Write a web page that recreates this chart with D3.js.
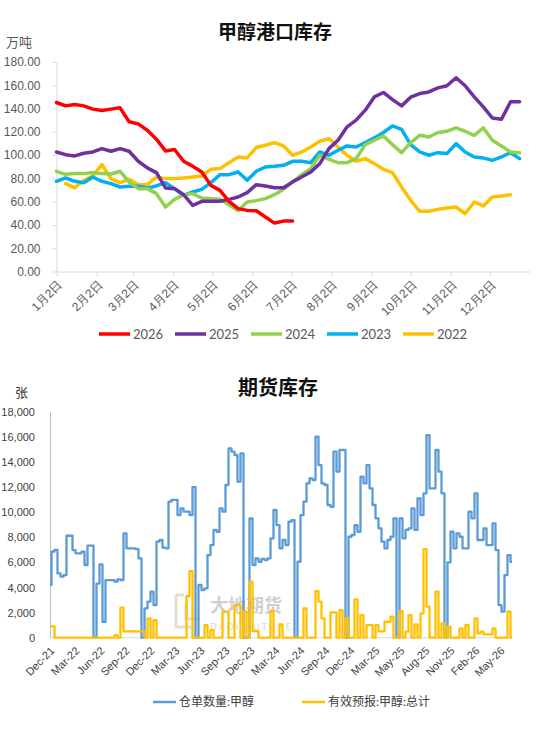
<!DOCTYPE html>
<html>
<head>
<meta charset="utf-8">
<script src="https://cdn.jsdelivr.net/npm/d3@7"></script>
<style>
  body { margin: 0; background: #fff; }
  svg { display: block; font-family: Lato, "Noto Sans CJK SC", sans-serif; }
</style>
</head>
<body>
<script>
// ---------- 甲醇港口库存 (万吨), weekly points from 1月2日 ----------
const portYears = ['2026', '2025', '2024', '2023', '2022'];
const port2026 = [145.2,142.3,143.5,142.3,139.5,138.3,139.5,140.6,128.6,126.8,121.4,113.7,103.6,104.8,94.7,90.4,85.5,74,69.7,60.3,54,52.5,52.2,46.8,41.6,43.3,43.3];
const port2025 = [102.7,100.4,99.3,101.6,102.7,105.6,103.3,105.6,103.3,94.7,89,85,71.8,71.2,66,56.8,60.3,60.3,60.3,62,64,67.8,74.6,73.5,72,72,77,81.2,85.5,92.7,105.6,112.8,124.3,130,138.6,150,153.8,147.7,142.3,149.8,152.9,154.3,157.8,159.6,166.5,159.6,150,141.5,131.9,130.8,145.8,145.8];
const port2024 = [86.1,83.5,84.1,84.1,85,84.1,83.8,86.1,76.9,71.2,71.2,66.9,55.4,62,66,66.9,63.1,62.6,62,57.4,52.2,59.7,60.9,62.6,66,70.6,76.9,83.2,88.4,99.9,96.4,93.5,93.5,97,109,112.8,116.5,109,102.1,110.7,117,115.6,119.4,120.5,123.4,120.5,117,123.4,112.8,107.9,102.7,102];
const port2023 = [77.5,80.4,77.5,76.3,81.2,77.5,75.5,72.6,73.2,73.2,71.8,73.5,76.3,71.2,65.4,68.3,70.6,76.3,83.2,83.2,85.5,78.4,86.1,89.8,90.4,91.2,94.7,94.7,93.5,102.7,99.9,104.2,107.9,107,110.7,114.8,119.4,125.1,122.2,109,102.7,99.9,102.1,101.3,109.9,102.7,98.4,97.6,95.5,98.4,102.1,97];
const port2022 = [75.5,71.8,78.4,82.1,91.9,79.8,76.3,79.2,74.6,74.6,81.2,79.8,79.8,80.4,81.2,82.1,87.8,88.4,93.5,98.4,97.6,106.5,108.5,110.7,107.9,99.9,102.7,107,111.9,114.2,107,99.9,94.7,97,92.7,87.8,85,72.6,61.1,51.7,51.7,53.4,54.5,55.4,49.6,59.7,56.3,64,64.8,66];
const portFirstWeek = [0, 0, 0, 0, 1];   // week index of each series' first value
const portTicks = d3.range(0, 181, 20);
const portMonths = d3.range(0, 12);      // tick on the 2nd of each month

// ---------- 期货库存 (张) ----------
const futTickLabels = ['Dec-21','Mar-22','Jun-22','Sep-22','Dec-22','Mar-23','Jun-23','Sep-23','Dec-23','Mar-24','Jun-24','Sep-24','Dec-24','Mar-25','May-25','Aug-25','Nov-25','Feb-26','May-26'];
const futYTicks = d3.range(0, 18001, 2000);
const warrant = [4200,6850,7000,5120,4860,4990,8120,8120,6980,6720,6720,6850,5790,7330,7330,0,4300,5840,1270,4590,
  4590,4590,4460,4650,4590,8310,7120,7120,7120,7050,6320,0,2340,2870,3660,2600,7650,7780,7170,7120,
  10830,10970,10970,9770,10300,10040,10040,9770,12000,0,4200,3800,3930,6580,7380,8580,8440,10300,10040,12160,
  15080,14820,14550,12430,14680,0,0,9500,5790,6320,6050,6270,6190,6320,7910,10170,8970,7120,7780,7380,
  9240,9370,0,6050,9770,10830,12290,12690,12560,16010,13750,12290,12160,10570,10430,14820,13220,14950,14950,0,
  8040,8180,8970,8440,12820,12290,13750,11890,10570,9500,8710,7650,7120,7780,8040,9500,0,9500,7910,8580,
  8710,10300,8580,11100,9770,11500,16140,11890,11890,14950,13220,11500,0,6000,8440,7120,8310,8040,7120,7120,
  10040,9500,11500,7780,7780,8710,7380,7380,9110,6980,2600,2070,4990,6580,6050];
const forecast = [900,900,0,0,0,0,0,0,0,0,0,0,0,0,0,0,0,0,0,0,
  0,0,200,0,2400,500,500,500,500,500,500,500,0,1540,0,1400,0,0,0,0,
  0,0,0,0,0,0,3300,5300,0,0,0,0,1000,0,600,0,0,0,2070,2070,
  0,0,2600,2600,0,2070,0,4460,530,530,0,0,0,0,2120,0,0,1060,0,0,
  0,0,0,0,0,2340,0,0,0,3700,2870,1540,0,0,2020,2020,0,2200,0,1540,
  0,0,3050,0,1800,0,1000,1000,0,1000,500,500,1270,1270,1670,0,0,2120,0,480,
  1800,0,1060,0,1940,7060,2470,0,0,3660,0,1140,0,880,0,0,0,740,0,1010,
  0,0,1540,350,480,270,270,270,740,0,0,0,0,2070,0];

const portColors = ['#FF0000', '#7030A0', '#92D050', '#00B0F0', '#FFC000'];
const gray = '#595959';

const svg = d3.select('body').append('svg').attr('width', 550).attr('height', 731);

// ================= top chart =================
const t = {left: 56.5, right: 530, top: 62, bottom: 271.5};
const day0 = new Date(2022, 0, 2);
const x1 = d3.scaleTime().domain([day0, new Date(2023, 0, 2)]).range([t.left, t.right]);
const y1 = d3.scaleLinear().domain([0, 180]).range([t.bottom, t.top]);

svg.append('text').attr('x', 275).attr('y', 39).attr('text-anchor', 'middle')
  .style('font-size', '19px').style('font-weight', 'bold').attr('fill', '#111')
  .text('甲醇港口库存');
svg.append('text').attr('x', 6).attr('y', 47).style('font-size', '13px').attr('fill', gray).text('万吨');

svg.append('g').attr('transform', `translate(${t.left},0)`)
  .call(d3.axisLeft(y1).tickValues(portTicks).tickFormat(d3.format('.2f')).tickSize(4).tickSizeOuter(0).tickPadding(12))
  .call(g => g.selectAll('line,path').attr('stroke', '#D9D9D9'))
  .call(g => g.selectAll('text').attr('fill', gray).style('font-size', '12px'));

svg.append('g').attr('transform', `translate(0,${t.bottom})`)
  .call(d3.axisBottom(x1).tickValues(portMonths.map(m => new Date(2022, m, 2)))
    .tickFormat(d => (d.getMonth() + 1) + '月2日').tickSize(5).tickSizeOuter(0))
  .call(g => g.selectAll('line,path').attr('stroke', '#D9D9D9'))
  .call(g => g.selectAll('text').attr('fill', gray).style('font-size', '12px')
    .attr('x', 0).attr('y', 0).attr('dy', '0.35em')
    .attr('transform', 'translate(3,11) rotate(-45)').style('text-anchor', 'end'));

const portSeries = [port2026, port2025, port2024, port2023, port2022];
const line1 = d3.line()
  .x(d => x1(d3.timeDay.offset(day0, d.week * 7)))
  .y(d => y1(d.v));
portSeries.slice().reverse().forEach((vals, ri) => {
  const k = portSeries.length - 1 - ri;
  const pts = vals.map((v, i) => ({week: i + portFirstWeek[k], v}));
  svg.append('path').datum(pts).attr('d', line1)
    .attr('fill', 'none').attr('stroke', portColors[k]).attr('stroke-width', 3.5)
    .attr('stroke-linejoin', 'round').attr('stroke-linecap', 'round');
});

const leg1 = svg.append('g').attr('transform', 'translate(0,334)');
portYears.forEach((name, k) => {
  const lx = 99 + k * 76;
  leg1.append('line').attr('x1', lx).attr('x2', lx + 31).attr('y1', 0).attr('y2', 0)
    .attr('stroke', portColors[k]).attr('stroke-width', 3.5);
  leg1.append('text').attr('x', lx + 34).attr('y', 0).attr('dy', '0.35em')
    .style('font-size', '13px').attr('fill', gray).text(name);
});

// ================= bottom chart =================
const b = {left: 50, right: 512, top: 411.7, bottom: 637.7};
const x2 = d3.scaleLinear().domain([0, warrant.length - 1]).range([b.left, b.right]);
const y2 = d3.scaleLinear().domain([0, 18000]).range([b.bottom, b.top]);
const xLab = d3.scalePoint().domain(futTickLabels).range([x2(0), x2(150)]);

svg.append('text').attr('x', 278).attr('y', 395).attr('text-anchor', 'middle')
  .style('font-size', '20px').style('font-weight', 'bold').attr('fill', '#111')
  .text('期货库存');
svg.append('text').attr('x', 15).attr('y', 397).style('font-size', '13px').attr('fill', '#333').text('张');

// watermark
const wm = svg.append('g').attr('opacity', 0.55);
wm.append('path').attr('d', 'M176,595 v32 h18 M176,595 h8 M186,603 v16 h14')
  .attr('fill', 'none').attr('stroke', '#cfc3ad').attr('stroke-width', 3);
wm.append('text').attr('x', 210).attr('y', 612).style('font-size', '18px').style('font-weight', 'bold')
  .attr('fill', '#a9a9a9').text('大地期货');
wm.append('text').attr('x', 210).attr('y', 630).style('font-size', '8.5px').style('letter-spacing', '2.5px')
  .attr('fill', '#b5b5b5').text('DADI FUTURES');

svg.append('g').attr('transform', `translate(${b.left},0)`)
  .call(d3.axisLeft(y2).tickValues(futYTicks).tickFormat(d3.format(',')).tickSize(0).tickPadding(15))
  .call(g => g.select('.domain').attr('stroke', '#BFBFBF'))
  .call(g => g.selectAll('text').attr('fill', '#404040').style('font-size', '11px'));

svg.append('g').attr('transform', `translate(0,${b.bottom})`)
  .call(d3.axisBottom(xLab).tickSize(0).tickSizeOuter(0))
  .call(g => g.select('.domain').attr('stroke', '#D9D9D9').attr('d', `M${b.left},0H${b.right}`))
  .call(g => g.selectAll('text').attr('fill', '#404040').style('font-size', '11px')
    .attr('x', 0).attr('y', 0).attr('dy', '0.35em')
    .attr('transform', 'translate(2,11) rotate(-45)').style('text-anchor', 'end'));

const line2 = d3.line().x((d, i) => x2(i)).y(d => y2(d)).curve(d3.curveStep);
svg.append('path').datum(warrant).attr('d', line2)
  .attr('fill', 'none').attr('stroke', '#5B9BD5').attr('stroke-width', 2.3).attr('stroke-linejoin', 'round');
svg.append('path').datum(forecast).attr('d', line2)
  .attr('fill', 'none').attr('stroke', '#FFC000').attr('stroke-width', 2.3).attr('stroke-linejoin', 'round');

const leg2 = svg.append('g').attr('transform', 'translate(0,702)');
[['仓单数量:甲醇', '#5B9BD5', 153], ['有效预报:甲醇:总计', '#FFC000', 302]].forEach(([name, c, lx]) => {
  leg2.append('line').attr('x1', lx).attr('x2', lx + 23).attr('y1', 0).attr('y2', 0)
    .attr('stroke', c).attr('stroke-width', 2.5);
  leg2.append('text').attr('x', lx + 26).attr('y', 0).attr('dy', '0.35em')
    .style('font-size', '12px').attr('fill', '#404040').text(name);
});
</script>
</body>
</html>
